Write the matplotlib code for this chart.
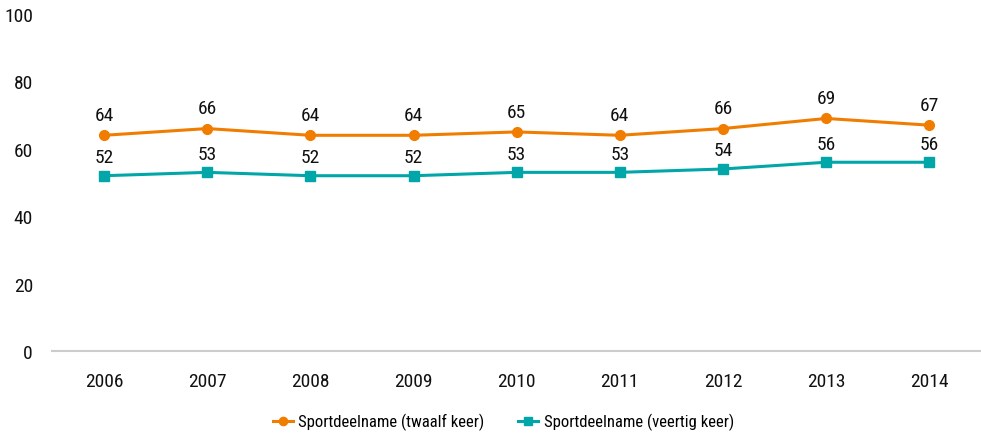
import matplotlib.pyplot as plt
import numpy as np

years = ['2006', '2007', '2008', '2009', '2010', '2011', '2012', '2013', '2014']
twaalf = [64, 66, 64, 64, 65, 64, 66, 69, 67]
veertig = [52, 53, 52, 52, 53, 53, 54, 56, 56]

orange = '#F07D00'
teal = '#00A6A8'
plt.rcParams['font.family'] = ['Roboto Condensed', 'DejaVu Sans']

fig = plt.figure(figsize=(9.81, 4.35), dpi=100)
ax = fig.add_axes([0.0534, 0.191, 0.9466, 0.7745])

x = np.arange(len(years))
ax.plot(x, twaalf, color=orange, lw=2.2, marker='o', ms=7, label='Sportdeelname (twaalf keer)')
ax.plot(x, veertig, color=teal, lw=2.2, marker='s', ms=6.5, label='Sportdeelname (veertig keer)')

# value labels above the points
for xi, v in zip(x, twaalf):
    ax.annotate(str(v), (xi, v), xytext=(0, 8), textcoords='offset points',
                ha='center', va='bottom', fontsize=14, color='#111111')
for xi, v in zip(x, veertig):
    ax.annotate(str(v), (xi, v), xytext=(0, 7), textcoords='offset points',
                ha='center', va='bottom', fontsize=14, color='#111111')

ax.set_xlim(-0.5, 8.5)
ax.set_ylim(0, 100)
ax.set_yticks(range(0, 101, 20))
ax.set_xticks(x)
ax.set_xticklabels(years)
ax.tick_params(axis='both', length=0, labelsize=14, colors='#111111')
ax.tick_params(axis='x', pad=15)
ax.tick_params(axis='y', pad=14)
for s in ['top', 'right', 'left']:
    ax.spines[s].set_visible(False)
ax.spines['bottom'].set_color('#CCCCCC')
ax.spines['bottom'].set_linewidth(1.5)

fig.legend(loc='center', bbox_to_anchor=(0.513, 0.028), ncol=2, frameon=False,
           fontsize=12, handlelength=1.2, columnspacing=2.0, handletextpad=0.35,
           markerscale=0.85)

fig.savefig('out.png', dpi=100)
